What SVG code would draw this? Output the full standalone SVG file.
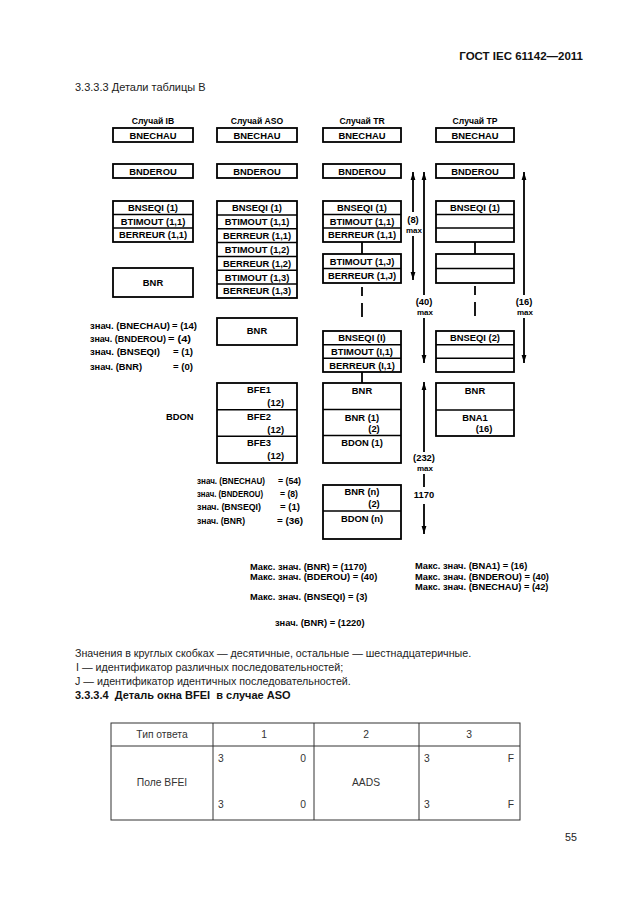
<svg xmlns="http://www.w3.org/2000/svg" width="630" height="913" viewBox="0 0 630 913">
<style>
.bg{fill:#fff}
.box{fill:none;stroke:#000;stroke-width:1.8}
.div{stroke:#000;stroke-width:1.5}
.ln{stroke:#000;stroke-width:1.8;fill:none}
.t{font-family:"Liberation Sans",Arial,sans-serif;font-weight:bold;font-size:9.4px;fill:#000}
.c{text-anchor:middle}
.e{text-anchor:end}
.l{font-family:"Liberation Sans",Arial,sans-serif;font-weight:bold;font-size:9.3px;fill:#000}
.body{font-family:"Liberation Sans",Arial,sans-serif;font-size:10.7px;fill:#222}
.bodyb{font-family:"Liberation Sans",Arial,sans-serif;font-size:11px;font-weight:bold;fill:#111;white-space:pre}
.tbl{stroke:#333;stroke-width:1;fill:none}
.tt{font-family:"Liberation Sans",Arial,sans-serif;font-size:10.3px;fill:#333}
</style>
<defs>
<marker id="ah" markerUnits="userSpaceOnUse" markerWidth="10" markerHeight="8" refX="8" refY="3" orient="auto">
<path d="M0,0.6 L8,3 L0,5.4 z" fill="#000"/>
</marker>
</defs>
<rect class="bg" x="0" y="0" width="630" height="913"/>

<text class="bodyb" x="583" y="60" text-anchor="end" style="font-size:11.5px">ГОСТ IEC 61142—2011</text>
<text class="body" x="75" y="91" style="font-size:11px">3.3.3.3 Детали таблицы В</text>

<g id="headers">
<text class="t c" x="153" y="124" style="font-size:8.6px">Случай IB</text>
<text class="t c" x="257" y="124" style="font-size:8.6px">Случай ASO</text>
<text class="t c" x="362" y="124" style="font-size:8.6px">Случай TR</text>
<text class="t c" x="475" y="124" style="font-size:8.6px">Случай TP</text>
</g>

<!-- IB column -->
<g id="ib-bnechau"><rect class="box" x="113" y="128" width="80" height="14"/><text class="t c" x="153" y="138.5">BNECHAU</text></g>
<g id="ib-bnderou"><rect class="box" x="113" y="164" width="80" height="14"/><text class="t c" x="153" y="174.5">BNDEROU</text></g>
<g id="ib-seq">
<rect class="box" x="113" y="201" width="80" height="41"/>
<line class="div" x1="113" y1="214.5" x2="193" y2="214.5"/>
<line class="div" x1="113" y1="228" x2="193" y2="228"/>
<text class="t c" x="153" y="211">BNSEQI (1)</text>
<text class="t c" x="153" y="224.5">BTIMOUT (1,1)</text>
<text class="t c" x="153" y="238">BERREUR (1,1)</text>
</g>
<g id="ib-bnr"><rect class="box" x="113" y="268" width="80" height="29"/><text class="t c" x="153" y="285.5">BNR</text></g>

<!-- ASO column -->
<g id="aso-bnechau"><rect class="box" x="217" y="128" width="80" height="14"/><text class="t c" x="257" y="138.5">BNECHAU</text></g>
<g id="aso-bnderou"><rect class="box" x="217" y="164" width="80" height="14"/><text class="t c" x="257" y="174.5">BNDEROU</text></g>
<g id="aso-seq">
<rect class="box" x="217" y="201" width="80" height="97"/>
<line class="div" x1="217" y1="214.9" x2="297" y2="214.9"/>
<line class="div" x1="217" y1="228.7" x2="297" y2="228.7"/>
<line class="div" x1="217" y1="242.6" x2="297" y2="242.6"/>
<line class="div" x1="217" y1="256.4" x2="297" y2="256.4"/>
<line class="div" x1="217" y1="270.3" x2="297" y2="270.3"/>
<line class="div" x1="217" y1="284.1" x2="297" y2="284.1"/>
<text class="t c" x="257" y="211">BNSEQI (1)</text>
<text class="t c" x="257" y="225">BTIMOUT (1,1)</text>
<text class="t c" x="257" y="239">BERREUR (1,1)</text>
<text class="t c" x="257" y="252.5">BTIMOUT (1,2)</text>
<text class="t c" x="257" y="266.5">BERREUR (1,2)</text>
<text class="t c" x="257" y="280.5">BTIMOUT (1,3)</text>
<text class="t c" x="257" y="294">BERREUR (1,3)</text>
</g>
<g id="aso-bnr"><rect class="box" x="217" y="318" width="80" height="27"/><text class="t c" x="257" y="334">BNR</text></g>
<g id="aso-bfe">
<rect class="box" x="217" y="383" width="80" height="80"/>
<line class="div" x1="217" y1="409.7" x2="297" y2="409.7"/>
<line class="div" x1="217" y1="436.3" x2="297" y2="436.3"/>
<text class="t" x="247" y="393">BFE1</text>
<text class="t e" x="284" y="406">(12)</text>
<text class="t" x="247" y="419.5">BFE2</text>
<text class="t e" x="284" y="432.5">(12)</text>
<text class="t" x="247" y="446">BFE3</text>
<text class="t e" x="284" y="459">(12)</text>
</g>

<!-- TR column -->
<g id="tr-bnechau"><rect class="box" x="323" y="128" width="78" height="14"/><text class="t c" x="362" y="138.5">BNECHAU</text></g>
<g id="tr-bnderou"><rect class="box" x="323" y="164" width="78" height="14"/><text class="t c" x="362" y="174.5">BNDEROU</text></g>
<g id="tr-seq1">
<rect class="box" x="323" y="201" width="78" height="41"/>
<line class="div" x1="323" y1="214.5" x2="401" y2="214.5"/>
<line class="div" x1="323" y1="228" x2="401" y2="228"/>
<text class="t c" x="362" y="211">BNSEQI (1)</text>
<text class="t c" x="362" y="224.5">BTIMOUT (1,1)</text>
<text class="t c" x="362" y="238">BERREUR (1,1)</text>
</g>
<g id="tr-seqj">
<rect class="box" x="323" y="254" width="78" height="29"/>
<line class="div" x1="323" y1="268.5" x2="401" y2="268.5"/>
<text class="t c" x="362" y="264.5">BTIMOUT (1,J)</text>
<text class="t c" x="362" y="279">BERREUR (1,J)</text>
</g>
<g id="tr-seqi">
<rect class="box" x="323" y="331" width="78" height="41"/>
<line class="div" x1="323" y1="344.7" x2="401" y2="344.7"/>
<line class="div" x1="323" y1="358.3" x2="401" y2="358.3"/>
<text class="t c" x="362" y="341">BNSEQI (I)</text>
<text class="t c" x="362" y="355">BTIMOUT (I,1)</text>
<text class="t c" x="362" y="368.5">BERREUR (I,1)</text>
</g>
<g id="tr-bnr1">
<rect class="box" x="323" y="383" width="78" height="80"/>
<line class="div" x1="323" y1="409.5" x2="401" y2="409.5"/>
<line class="div" x1="323" y1="435.5" x2="401" y2="435.5"/>
<text class="t c" x="362" y="394">BNR</text>
<text class="t c" x="362" y="420.5">BNR (1)</text>
<text class="t c" x="374" y="432">(2)</text>
<text class="t c" x="362" y="446">BDON (1)</text>
</g>
<g id="tr-bnrn">
<rect class="box" x="323" y="485" width="78" height="54"/>
<line class="div" x1="323" y1="511" x2="401" y2="511"/>
<text class="t c" x="362" y="495">BNR (n)</text>
<text class="t c" x="374" y="507">(2)</text>
<text class="t c" x="362" y="522">BDON (n)</text>
</g>

<!-- TP column -->
<g id="tp-bnechau"><rect class="box" x="436" y="128" width="78" height="14"/><text class="t c" x="475" y="138.5">BNECHAU</text></g>
<g id="tp-bnderou"><rect class="box" x="436" y="164" width="78" height="14"/><text class="t c" x="475" y="174.5">BNDEROU</text></g>
<g id="tp-seq1">
<rect class="box" x="436" y="201" width="78" height="41"/>
<line class="div" x1="436" y1="214.5" x2="514" y2="214.5"/>
<line class="div" x1="436" y1="228" x2="514" y2="228"/>
<text class="t c" x="475" y="211">BNSEQI (1)</text>
</g>
<g id="tp-seqj">
<rect class="box" x="436" y="254" width="78" height="29"/>
<line class="div" x1="436" y1="268.5" x2="514" y2="268.5"/>
</g>
<g id="tp-seq2">
<rect class="box" x="436" y="331" width="78" height="41"/>
<line class="div" x1="436" y1="344.7" x2="514" y2="344.7"/>
<line class="div" x1="436" y1="358.3" x2="514" y2="358.3"/>
<text class="t c" x="475" y="341">BNSEQI (2)</text>
</g>
<g id="tp-bnr">
<rect class="box" x="436" y="383" width="78" height="53"/>
<line class="div" x1="436" y1="410" x2="514" y2="410"/>
<text class="t c" x="475" y="394">BNR</text>
<text class="t c" x="475" y="421">BNA1</text>
<text class="t c" x="484" y="432">(16)</text>
</g>

<!-- connectors -->
<g id="connectors">
<line class="ln" x1="362" y1="242" x2="362" y2="254"/>
<line class="ln" x1="362" y1="287" x2="362" y2="296"/>
<line class="ln" x1="362" y1="303" x2="362" y2="317"/>
<line class="ln" x1="362" y1="372" x2="362" y2="383"/>
<line class="ln" x1="475" y1="242" x2="475" y2="254"/>
<line class="ln" x1="475" y1="286" x2="475" y2="295"/>
<line class="ln" x1="475" y1="302" x2="475" y2="316"/>
<line class="ln" x1="413" y1="212" x2="413" y2="172" marker-end="url(#ah)"/>
<line class="ln" x1="413" y1="236" x2="413" y2="280" marker-end="url(#ah)"/>
<line class="ln" x1="424" y1="295" x2="424" y2="172" marker-end="url(#ah)"/>
<line class="ln" x1="424" y1="318" x2="424" y2="363" marker-end="url(#ah)"/>
<line class="ln" x1="424" y1="452" x2="424" y2="382" marker-end="url(#ah)"/>
<line class="ln" x1="424" y1="474" x2="424" y2="487"/>
<line class="ln" x1="424" y1="504" x2="424" y2="534" marker-end="url(#ah)"/>
<line class="ln" x1="524" y1="295" x2="524" y2="172" marker-end="url(#ah)"/>
<line class="ln" x1="524" y1="318" x2="524" y2="363" marker-end="url(#ah)"/>
</g>

<g id="arrow-labels">
<text class="t c" x="413" y="223">(8)</text>
<text class="t c" x="414" y="233" style="font-size:8px">max</text>
<text class="t c" x="424" y="305">(40)</text>
<text class="t c" x="425" y="315" style="font-size:8px">max</text>
<text class="t c" x="524" y="305">(16)</text>
<text class="t c" x="525" y="315" style="font-size:8px">max</text>
<text class="t c" x="424" y="461">(232)</text>
<text class="t c" x="425" y="471" style="font-size:8px">max</text>
<text class="t c" x="424" y="498">1170</text>
</g>

<g id="notes-left">
<text class="l" x="90" y="329" textLength="80" lengthAdjust="spacingAndGlyphs">знач. (BNECHAU)</text><text class="l" x="172" y="329" textLength="25" lengthAdjust="spacingAndGlyphs">= (14)</text>
<text class="l" x="90" y="342" textLength="76" lengthAdjust="spacingAndGlyphs">знач. (BNDEROU)</text><text class="l" x="168" y="342" textLength="23" lengthAdjust="spacingAndGlyphs">= (4)</text>
<text class="l" x="90" y="355" textLength="70" lengthAdjust="spacingAndGlyphs">знач. (BNSEQI)</text><text class="l" x="173" y="355" textLength="20" lengthAdjust="spacingAndGlyphs">= (1)</text>
<text class="l" x="90" y="370" textLength="52" lengthAdjust="spacingAndGlyphs">знач. (BNR)</text><text class="l" x="173" y="370" textLength="20" lengthAdjust="spacingAndGlyphs">= (0)</text>
<text class="t" x="166" y="420">BDON</text>
</g>

<g id="notes-mid">
<text class="l" x="197" y="484" textLength="68" lengthAdjust="spacingAndGlyphs">знач. (BNECHAU)</text><text class="l" x="278" y="484" textLength="23" lengthAdjust="spacingAndGlyphs">= (54)</text>
<text class="l" x="197" y="497" textLength="66" lengthAdjust="spacingAndGlyphs">знач. (BNDEROU)</text><text class="l" x="280" y="497" textLength="18" lengthAdjust="spacingAndGlyphs">= (8)</text>
<text class="l" x="197" y="510" textLength="64" lengthAdjust="spacingAndGlyphs">знач. (BNSEQI)</text><text class="l" x="280" y="510" textLength="20" lengthAdjust="spacingAndGlyphs">= (1)</text>
<text class="l" x="197" y="524" textLength="48" lengthAdjust="spacingAndGlyphs">знач. (BNR)</text><text class="l" x="277" y="524" textLength="26" lengthAdjust="spacingAndGlyphs">= (36)</text>
</g>

<g id="notes-max">
<text class="l" x="250" y="570">Макс. знач. (BNR) = (1170)</text>
<text class="l" x="250" y="580">Макс. знач. (BDEROU) = (40)</text>
<text class="l" x="250" y="600">Макс. знач. (BNSEQI) = (3)</text>
<text class="l" x="275" y="626">знач. (BNR) = (1220)</text>
<text class="l" x="415" y="569">Макс. знач. (BNA1) = (16)</text>
<text class="l" x="415" y="580">Макс. знач. (BNDEROU) = (40)</text>
<text class="l" x="415" y="590">Макс. знач. (BNECHAU) = (42)</text>
</g>

<g id="footnotes">
<text class="body" x="75" y="657">Значения в круглых скобках — десятичные, остальные — шестнадцатеричные.</text>
<text class="body" x="76" y="671">I — идентификатор различных последовательностей;</text>
<text class="body" x="75" y="685">J — идентификатор идентичных последовательностей.</text>
<text class="bodyb" x="75" y="699">3.3.3.4  Деталь окна BFEI  в случае ASO</text>
</g>

<g id="table">
<rect class="tbl" x="111" y="723" width="409" height="97"/>
<line class="tbl" x1="111" y1="746" x2="520" y2="746"/>
<line class="tbl" x1="213" y1="723" x2="213" y2="820"/>
<line class="tbl" x1="314" y1="723" x2="314" y2="820"/>
<line class="tbl" x1="419" y1="723" x2="419" y2="820"/>
<text class="tt c" x="162" y="738">Тип ответа</text>
<text class="tt c" x="264" y="738">1</text>
<text class="tt c" x="366" y="738">2</text>
<text class="tt c" x="469" y="738">3</text>
<text class="tt c" x="162" y="786">Поле BFEI</text>
<text class="tt c" x="366" y="786">AADS</text>
<text class="tt" x="218" y="762">3</text>
<text class="tt e" x="306" y="762">0</text>
<text class="tt" x="218" y="808">3</text>
<text class="tt e" x="306" y="808">0</text>
<text class="tt" x="424" y="762">3</text>
<text class="tt e" x="514" y="762">F</text>
<text class="tt" x="424" y="808">3</text>
<text class="tt e" x="514" y="808">F</text>
</g>

<text class="body" x="577" y="841" text-anchor="end">55</text>
</svg>
